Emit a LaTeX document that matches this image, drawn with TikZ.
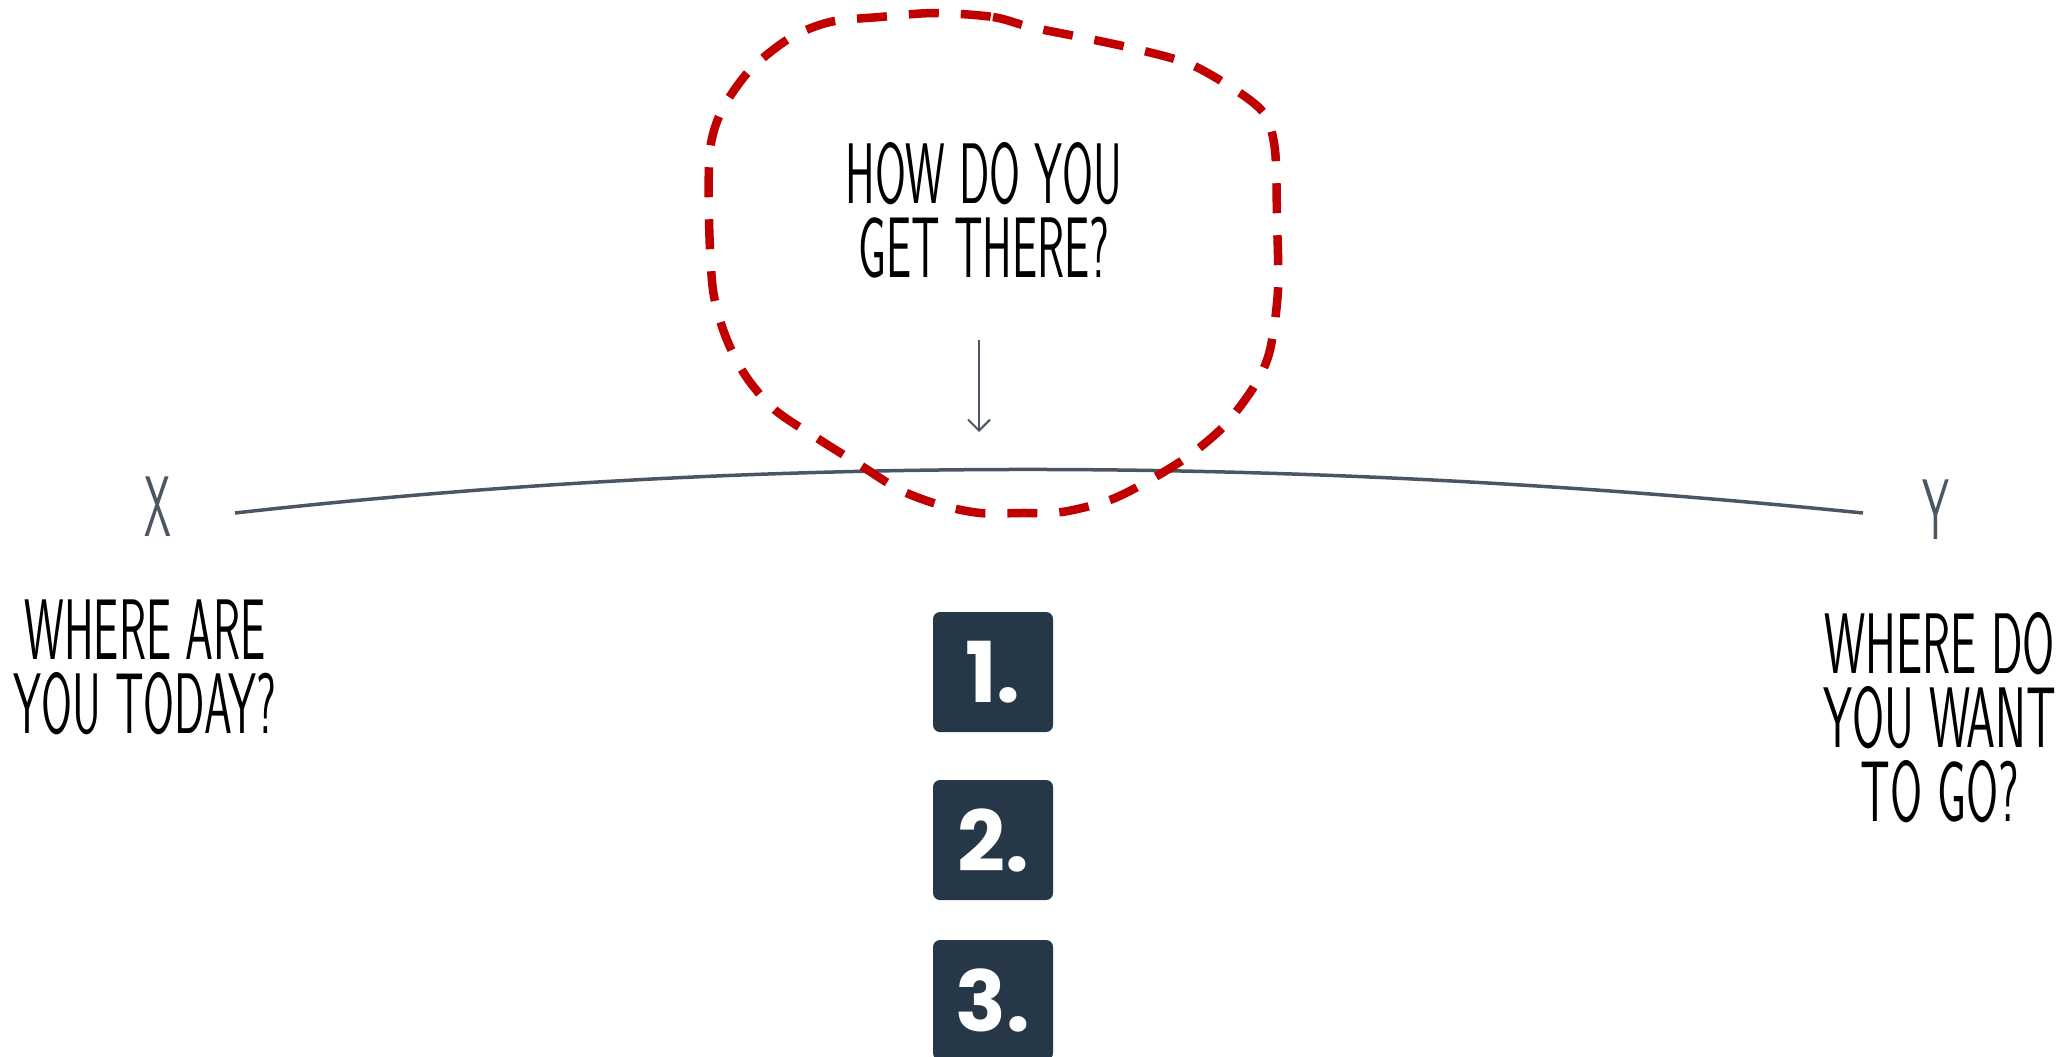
\documentclass[tikz,border=0pt]{standalone}
\usepackage{fontspec}
\usepackage{graphicx}
\newfontfamily\numfont{Poppins}
\definecolor{navy}{RGB}{38,55,71}
\definecolor{redline}{RGB}{192,0,0}
\definecolor{slate}{RGB}{74,86,99}
\usetikzlibrary{arrows.meta}
\newcommand{\hand}[2][0.54]{\scalebox{#1}[1]{#2}}

\begin{document}
\begin{tikzpicture}[x=1pt, y=-1pt, >={Straight Barb[length=11pt, width=22pt]},
    handtxt/.style={align=center, inner sep=0pt, font=\sffamily\fontsize{86}{74}\selectfont},
    stepbox/.style={fill=navy, text=white, rounded corners=7pt, minimum size=120pt, inner sep=0pt,
      font=\numfont\bfseries\fontsize{84}{84}\selectfont}]
    \useasboundingbox (0,0) rectangle (2072,1057);
    \clip (0,0) rectangle (2072,1057);
    % Đường đi từ X đến Y
    \coordinate (lineL) at (235,513);
    \coordinate (lineR) at (1863,513);
    \draw[slate, line width=3.5pt] (lineL) .. controls (778,452) and (1320,458) .. (lineR);
    \node[handtxt, text=slate] (X) at (158,507) {\hand[0.5]{X}};
    \node[handtxt, text=slate] (Y) at (1936,510) {\hand[0.5]{Y}};
    % Câu hỏi hai bên
    \node[handtxt] (today) at (145,667) {\hand[0.52]{WHERE ARE}\\\hand[0.52]{YOU TODAY?}};
    \node[handtxt] (goal) at (1940,718) {\hand{WHERE DO}\\\hand{YOU WANT}\\\hand{TO GO?}};
    % Vòng nét đứt quanh câu hỏi
    \draw[redline, line width=8.5pt, dash pattern=on 30pt off 22pt, line cap=butt]
      plot[smooth cycle] coordinates {(935,13) (993,17) (1030,27) (1085,38) (1140,50) (1192,65)
        (1240,93) (1265,115) (1275,150) (1277,220) (1278,290) (1270,350) (1255,385) (1225,425)
        (1190,455) (1150,480) (1110,500) (1062,512) (1020,513) (980,513) (940,505) (900,490)
        (860,465) (820,440) (775,410) (745,375) (725,335) (713,290) (709,220) (710,150)
        (722,110) (750,70) (790,38) (830,22) (880,17)};
    \node[handtxt] (how) at (984,210) {\hand[0.52]{HOW DO YOU}\\\hand[0.52]{GET THERE?}};
    \coordinate (arrowS) at (979,340);
    \coordinate (arrowE) at (979,432);
    \draw[->, slate, line width=2pt] (arrowS) -- (arrowE);
    % Các bước
    \node[stepbox] (step1) at (993,672) {1.};
    \node[stepbox] (step2) at (993,840) {2.};
    \node[stepbox] (step3) at (993,1000) {3.};
\end{tikzpicture}
\end{document}
